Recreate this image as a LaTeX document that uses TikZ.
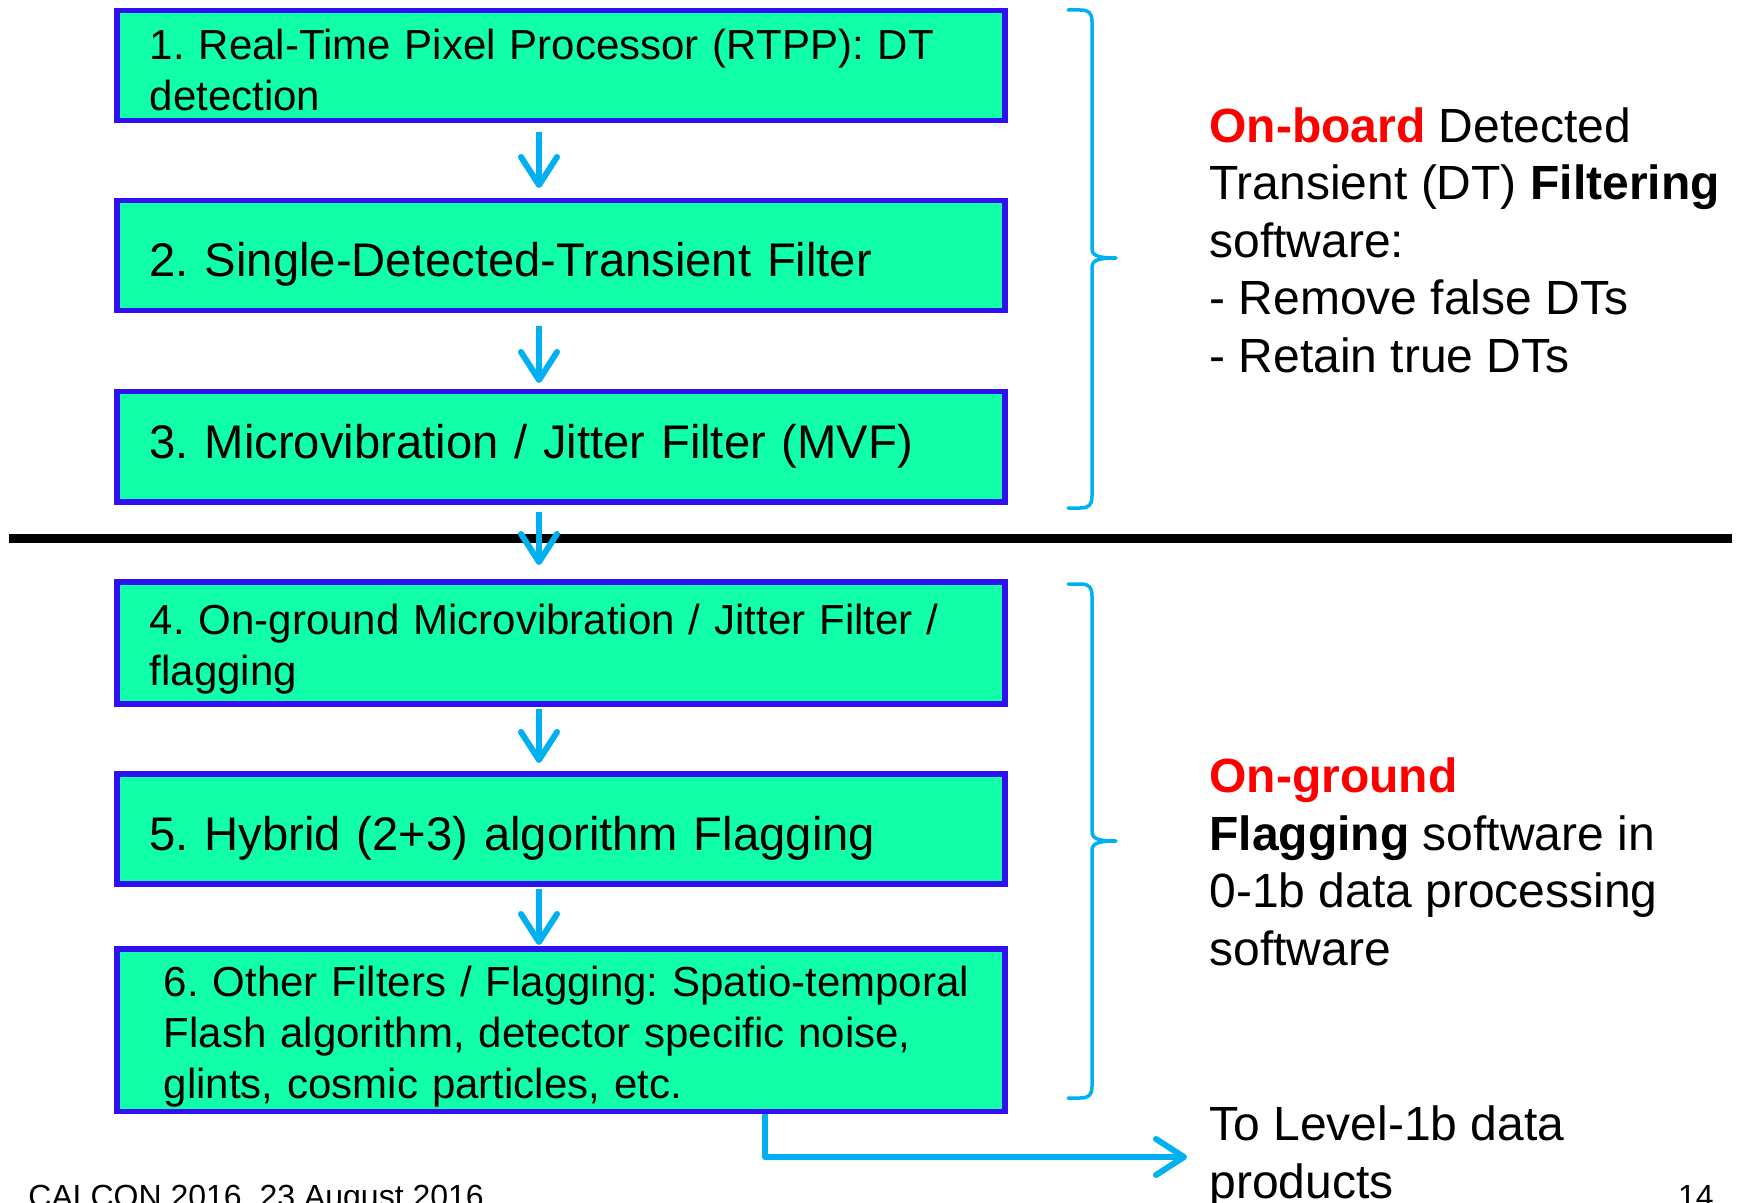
\documentclass[tikz,border=0pt]{standalone}
\usepackage{fontspec}
\setmainfont{Liberation Sans}
\usetikzlibrary{arrows.meta}

\definecolor{stagefill}{RGB}{16,255,168}
\definecolor{stageline}{RGB}{46,16,240}
\definecolor{flowblue}{RGB}{0,176,240}

\tikzset{
  stage/.style={draw=stageline, line width=2.75pt, fill=stagefill, anchor=north west,
    text width=444pt, inner xsep=0pt, inner ysep=2pt, align=left,
    execute at begin node={\leftskip=16.5pt\rule{0pt}{#1}}, font=\fontsize{21}{25.5}\selectfont\frenchspacing},
  stage/.default=22pt,
  bigstage/.style={stage=#1, font=\fontsize{23.6}{28.5}\selectfont\frenchspacing},
  bigstage/.default=26pt,
  flow/.style={flowblue, line width=3pt, line join=round, -{Straight Barb[round, length=14pt, width=18pt]}},
  bracket/.style={flowblue, line width=1.75pt, line cap=round, line join=round},
  note/.style={anchor=west, inner sep=0pt, align=left, font=\fontsize{24}{28.75}\selectfont},
  foot/.style={inner sep=0pt, font=\fontsize{16}{19}\selectfont},
}

\begin{document}
\begin{tikzpicture}[x=0.5pt,y=-0.5pt]
  \useasboundingbox (0,0) rectangle (1739,1203);
  % on-board chain
  \node[stage=19.5pt, minimum height=55pt] (rtpp) at (114,8) {1. Real-Time Pixel Processor (RTPP): DT\\detection};
  \node[bigstage, minimum height=55pt] (sdt) at (114,198) {2. Single-Detected-Transient Filter};
  \node[bigstage=17pt, minimum height=55pt] (mvf) at (114,389) {3. Microvibration / Jitter Filter (MVF)};
  % on-ground chain
  \node[stage, minimum height=61pt] (gmvf) at (114,579) {4. On-ground Microvibration / Jitter Filter /\\flagging};
  \node[bigstage=27pt, minimum height=55pt] (hybrid) at (114,771) {5. Hybrid (2+3) algorithm Flagging};
  \node[stage, minimum height=80pt, execute at begin node={\leftskip=23.5pt}] (other) at (114,946) {6. Other Filters / Flagging: Spatio-temporal\\Flash algorithm, detector specific noise,\\glints, cosmic particles, etc.};

  % separator
  \coordinate (sepL) at (9,538);
  \coordinate (sepR) at (1732,538);
  \draw[line width=4.5pt] (sepL) -- (sepR);

  \coordinate (axis) at (539,0);
  \foreach \a/\b/\s/\e in {rtpp/sdt/4.5/5, sdt/mvf/6.5/3, mvf/gmvf/3.5/7, gmvf/hybrid/1/4, hybrid/other/1/0.5}
    \draw[flow, shorten <=\s pt, shorten >=\e pt] (\a.south -| axis) -- (\b.north -| axis);

  % braces
  \foreach \t/\m/\b in {10/258/508, 584/841/1098}
    \draw[bracket] (1068,\t) -- (1080,\t) .. controls (1089,\t) and (1092,\t+3) .. (1092,\t+12)
      -- (1092,\m-10) .. controls (1092,\m-3) and (1096,\m) .. (1116,\m)
      .. controls (1096,\m) and (1092,\m+3) .. (1092,\m+10)
      -- (1092,\b-12) .. controls (1092,\b-3) and (1089,\b) .. (1080,\b) -- (1068,\b);

  % side notes
  \node[note] (onboard) at (1209,240) {\textcolor{red}{\textbf{On-board}} Detected\\Transient (DT) \textbf{Filtering}\\software:\\- Remove false DTs\\- Retain true DTs};
  \node[note] (onground) at (1209,862) {\textcolor{red}{\textbf{On-ground}}\\\textbf{Flagging} software in\\0-1b data processing\\software};
  \node[note] (level) at (1209,1157) {To Level-1b data\\products};

  \coordinate (elbow) at (765,0);
  \draw[flow, shorten >=11pt] (other.south -| elbow) |- (level.west);

  % footer
  \node[foot, anchor=base west] (venue) at (28,1207) {CALCON 2016, 23 August 2016};
  \node[foot, anchor=base east] (pageno) at (1714,1207) {14};
\end{tikzpicture}
\end{document}
